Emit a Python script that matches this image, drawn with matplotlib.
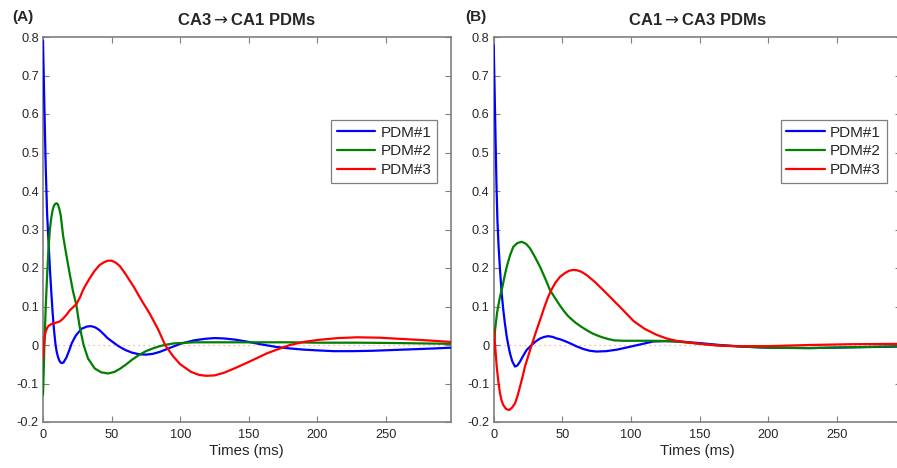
import matplotlib
matplotlib.use("Agg")
import matplotlib.pyplot as plt

plt.rcParams['font.family'] = ['Liberation Sans', 'DejaVu Sans']
plt.rcParams['axes.unicode_minus'] = False
plt.rcParams['mathtext.fontset'] = 'dejavusans'

# ---------------- Data ----------------
# Panel A: CA3 -> CA1
tA_blue = [0, 1, 2, 3, 4, 5, 6, 7, 8, 9, 10, 11, 12, 13, 14, 15, 17, 19, 21, 24, 28, 32, 35,
           38, 41, 44, 47, 50, 55, 60, 65, 70, 75, 80, 85, 90, 95, 100, 110, 118, 125, 132,
           140, 150, 160, 170, 180, 190, 200, 212, 225, 240, 255, 270, 285, 297]
A_blue = [0.79, 0.62, 0.46, 0.34, 0.27, 0.20, 0.14, 0.085, 0.04, 0.005, -0.018, -0.032,
          -0.041, -0.046, -0.047, -0.045, -0.033, -0.015, 0.005, 0.025, 0.042, 0.048, 0.049,
          0.046, 0.039, 0.029, 0.018, 0.01, -0.003, -0.013, -0.02, -0.024, -0.025, -0.023,
          -0.018, -0.011, -0.004, 0.003, 0.012, 0.016, 0.018, 0.017, 0.014, 0.008, 0.001,
          -0.005, -0.009, -0.012, -0.014, -0.016, -0.016, -0.015, -0.013, -0.011, -0.009, -0.007]

tA_green = [0, 0.5, 1, 2, 3, 4, 5, 6, 7, 8, 9, 10, 11, 12, 13, 14.6, 17, 19.4, 21.9, 24.3,
            26.7, 29.6, 32.8, 37.7, 42.5, 47.4, 52, 56, 60, 65, 70, 75, 80, 85, 90, 95, 100,
            110, 120, 140, 160, 180, 200, 230, 260, 297]
A_green = [-0.13, -0.07, 0.0, 0.1, 0.18, 0.25, 0.3, 0.33, 0.35, 0.362, 0.367, 0.368, 0.364,
           0.352, 0.335, 0.285, 0.234, 0.186, 0.139, 0.104, 0.048, 0.0, -0.035, -0.061,
           -0.071, -0.074, -0.07, -0.062, -0.052, -0.038, -0.026, -0.016, -0.009, -0.003,
           0.001, 0.004, 0.005, 0.007, 0.007, 0.007, 0.007, 0.007, 0.006, 0.006, 0.005, 0.003]

tA_red = [0, 0.5, 1.2, 2, 3, 3.6, 5, 7.3, 9.5, 12.1, 14.5, 17, 19.5, 21.9, 24.3, 27, 29.2,
          31.5, 34, 37.5, 41.3, 44.5, 47.4, 50, 53, 56, 60, 66, 72, 78, 84, 89, 95, 100, 108,
          114, 119, 125, 132, 140, 150, 163, 172, 180, 190, 200, 215, 229, 245, 260, 280, 297]
A_red = [-0.035, -0.01, 0.022, 0.035, 0.044, 0.048, 0.052, 0.056, 0.058, 0.061, 0.068, 0.078,
         0.09, 0.098, 0.106, 0.124, 0.143, 0.158, 0.173, 0.192, 0.208, 0.215, 0.219, 0.219,
         0.214, 0.205, 0.185, 0.152, 0.115, 0.08, 0.04, 0.0, -0.03, -0.05, -0.07, -0.078,
         -0.08, -0.079, -0.072, -0.06, -0.044, -0.022, -0.01, 0.0, 0.008, 0.013, 0.018, 0.02,
         0.019, 0.016, 0.012, 0.008]

# Panel B: CA1 -> CA3
tB_blue = [0, 1, 2, 2.7, 3.5, 4.6, 5.8, 7, 8.2, 9.5, 10.7, 11.9, 13.5, 15.5, 17.3, 19.2, 21.5,
           24, 27.7, 30.5, 33.8, 36.8, 39.8, 43, 45.9, 48.3, 52, 56, 60, 65, 70, 75, 82, 90,
           100, 110, 116, 125, 135, 150, 165, 180, 200, 230, 260, 297]
B_blue = [0.78, 0.6, 0.42, 0.325, 0.26, 0.195, 0.135, 0.091, 0.055, 0.022, -0.002, -0.022,
          -0.042, -0.056, -0.053, -0.043, -0.028, -0.013, 0.0, 0.009, 0.017, 0.021, 0.023,
          0.021, 0.017, 0.015, 0.01, 0.004, -0.003, -0.01, -0.015, -0.017, -0.016, -0.012,
          -0.004, 0.004, 0.009, 0.01, 0.009, 0.005, 0.0, -0.004, -0.007, -0.008, -0.006, -0.004]

tB_green = [0, 1, 2.5, 4.6, 6.3, 8, 9.5, 11.9, 14.3, 17.3, 20.4, 23.5, 26.5, 30, 33.8, 37.5,
            41, 44.5, 48, 51, 54, 57, 60, 64, 68, 72, 76, 80, 84, 88, 95, 100, 115, 130, 145,
            160, 180, 200, 230, 260, 297]
B_green = [-0.026, 0.039, 0.085, 0.126, 0.15, 0.18, 0.203, 0.233, 0.255, 0.265, 0.268, 0.263,
           0.251, 0.229, 0.203, 0.173, 0.143, 0.123, 0.104, 0.089, 0.076, 0.066, 0.057, 0.047,
           0.038, 0.030, 0.024, 0.019, 0.015, 0.012, 0.011, 0.011, 0.011, 0.01, 0.005, 0.0,
           -0.004, -0.007, -0.008, -0.006, -0.003]

tB_red = [0, 1, 2.2, 3.4, 4.6, 5.8, 7, 9, 11.2, 13.3, 15.5, 17.3, 19.2, 21, 22.8, 25.2, 27.7,
          30.7, 33.8, 36.8, 39.8, 42.3, 45, 48.3, 52, 55, 58, 61, 64, 68, 74, 80, 87, 95, 102,
          110, 119, 126, 133, 150, 165, 180, 200, 230, 260, 297]
B_red = [0.043, 0.0, -0.056, -0.095, -0.126, -0.145, -0.156, -0.166, -0.169, -0.163, -0.152,
         -0.133, -0.108, -0.083, -0.056, -0.028, 0.0, 0.033, 0.065, 0.097, 0.126, 0.145, 0.162,
         0.177, 0.187, 0.193, 0.195, 0.194, 0.19, 0.181, 0.163, 0.142, 0.117, 0.088, 0.062,
         0.042, 0.026, 0.017, 0.011, 0.003, -0.002, -0.003, -0.003, 0.0, 0.002, 0.003]

panel_letters = ["(A)", "(B)"]
panel_titles = ["CA3$\\rightarrow$CA1 PDMs", "CA1$\\rightarrow$CA3 PDMs"]
legend_labels = ["PDM#1", "PDM#2", "PDM#3"]
x_ticks = [0, 50, 100, 150, 200, 250]
y_ticks = [-0.2, -0.1, 0, 0.1, 0.2, 0.3, 0.4, 0.5, 0.6, 0.7, 0.8]
x_label = "Times (ms)"

panels = [
    [(tA_blue, A_blue), (tA_green, A_green), (tA_red, A_red)],
    [(tB_blue, B_blue), (tB_green, B_green), (tB_red, B_red)],
]

# ---------------- Figure ----------------
W, H = 897, 468
fig = plt.figure(figsize=(W / 100, H / 100), dpi=100)

colors = ["#0000ff", "#008000", "#ff0000"]
spine_col = "#7f7f7f"
text_col = "#262626"

ax_left_px = [43, 493.7]
letter_px = [12, 465]
legend_right_px = [437.3, 886.7]
ax_w_px = 407.5
ax_top_px, ax_bot_px = 37, 422

for i, series in enumerate(panels):
    ax = fig.add_axes([ax_left_px[i] / W, 1 - ax_bot_px / H, ax_w_px / W,
                       (ax_bot_px - ax_top_px) / H])
    ax.axhline(0, color="#ff9999", linestyle=(0, (1, 3)), linewidth=0.9, zorder=1)
    handles = []
    for (t, v), c, lab in zip(series, colors, legend_labels):
        h, = ax.plot(t, v, color=c, linewidth=1.6, label=lab, solid_joinstyle="round",
                     solid_capstyle="round", zorder=3)
        handles.append(h)
    ax.set_xlim(0, 297)
    ax.set_ylim(-0.2, 0.8)
    ax.set_xticks(x_ticks)
    ax.set_xticklabels([f"{x:g}" for x in x_ticks])
    ax.set_yticks(y_ticks)
    ax.set_yticklabels([f"{y:g}" for y in y_ticks])
    ax.tick_params(direction="in", top=True, right=True, length=4, width=0.8,
                   color=spine_col, labelsize=9.2, labelcolor=text_col, pad=3)
    ax.tick_params(axis="x", pad=5)
    for s in ax.spines.values():
        s.set_color(spine_col)
        s.set_linewidth(1.2)
    ax.set_xlabel(x_label, fontsize=10.8, color=text_col, labelpad=2)

    leg = ax.legend(handles=handles, loc="upper right",
                    bbox_to_anchor=(legend_right_px[i] / W, 1 - 120 / H),
                    bbox_transform=fig.transFigure, fontsize=11, frameon=True,
                    fancybox=False, edgecolor=spine_col, framealpha=1,
                    handlelength=2.5, handletextpad=0.35, borderpad=0.38,
                    labelspacing=0.3, borderaxespad=0)
    leg.get_frame().set_linewidth(0.9)
    for txt in leg.get_texts():
        txt.set_color(text_col)

    cx = (ax_left_px[i] + ax_w_px / 2) / W
    fig.text(cx, 1 - 20 / H, panel_titles[i], ha="center", va="center",
             fontsize=12, fontweight="bold", color=text_col)
    fig.text(letter_px[i] / W, 1 - 17 / H, panel_letters[i], ha="left", va="center",
             fontsize=11, fontweight="bold", color=text_col)

fig.savefig("out.png", dpi=100)
